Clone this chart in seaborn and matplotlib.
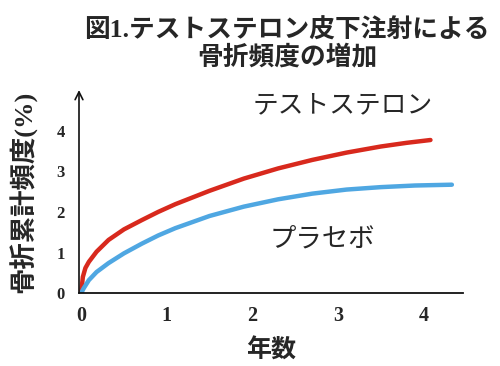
import pandas as pd
import matplotlib
matplotlib.use("Agg")
import matplotlib.pyplot as plt
import seaborn as sns

# values (years, cumulative fracture rate %)
testo_years = [0, 0.02, 0.05, 0.09, 0.18, 0.32, 0.5, 0.71, 0.9, 1.1, 1.5, 1.9, 2.3, 2.7, 3.1, 3.5, 3.8, 4.08]
testo_rate = [0, 0.40, 0.62, 0.77, 1.02, 1.31, 1.57, 1.80, 2.00, 2.19, 2.52, 2.82, 3.07, 3.28, 3.46, 3.61, 3.70, 3.77]
placebo_years = [0, 0.03, 0.09, 0.18, 0.32, 0.5, 0.71, 0.9, 1.1, 1.5, 1.9, 2.3, 2.7, 3.1, 3.5, 3.9, 4.33]
placebo_rate = [0, 0.12, 0.32, 0.52, 0.74, 0.98, 1.22, 1.42, 1.60, 1.90, 2.13, 2.31, 2.45, 2.55, 2.61, 2.65, 2.67]

x_ticks = [0, 1, 2, 3, 4]
y_ticks = [0, 1, 2, 3, 4]
series_names = ["テストステロン", "プラセボ"]

df = pd.concat([
    pd.DataFrame({"年数": testo_years, "頻度": testo_rate, "群": series_names[0]}),
    pd.DataFrame({"年数": placebo_years, "頻度": placebo_rate, "群": series_names[1]}),
])

sns.set_theme(style="white")
plt.rcParams['font.family'] = ['Liberation Serif', 'Noto Sans CJK JP']

fig = plt.figure(figsize=(5, 3.66), dpi=100)
ax = fig.add_axes([0.158, 0.199, 0.768, 0.555])

sns.lineplot(data=df, x="年数", y="頻度", hue="群", sort=False, estimator=None,
             palette={series_names[0]: "#d8291d", series_names[1]: "#4fa7e2"},
             linewidth=3.2, legend=False, ax=ax)

ax.set_xlim(-0.025, 4.46)
ax.set_ylim(0, 5.0)
ax.set_xticks(x_ticks)
ax.set_yticks(y_ticks)
ax.tick_params(length=0)
ax.tick_params(axis='x', pad=9, labelsize=14.5)
ax.tick_params(axis='y', pad=10, labelsize=12)
for lab in ax.get_xticklabels() + ax.get_yticklabels():
    lab.set_fontweight('bold')

for side in ["top", "right", "left"]:
    ax.spines[side].set_visible(False)
ax.spines["bottom"].set_color("#111111")
ax.spines["bottom"].set_linewidth(1.3)

# y axis drawn as an arrow
ax.annotate("", xy=(0, 1.0), xytext=(0, 0), xycoords="axes fraction",
            arrowprops=dict(arrowstyle="->", color="#111111", lw=1.2,
                            mutation_scale=14, shrinkA=0, shrinkB=0))

ax.set_xlabel("年数", fontsize=18, fontweight="bold", labelpad=9)
ax.set_ylabel("骨折累計頻度(%)", fontsize=19, fontweight="bold", labelpad=14)

ax.text(3.06, 4.6, series_names[0], ha="center", va="center", fontsize=18.5)
ax.text(2.82, 1.31, series_names[1], ha="center", va="center", fontsize=19)

fig.text(0.574, 0.88, "図1.テストステロン皮下注射による\n骨折頻度の増加",
         ha="center", va="center", fontsize=18.5, fontweight="bold", linespacing=1.1)

fig.savefig("out.png", dpi=100)
